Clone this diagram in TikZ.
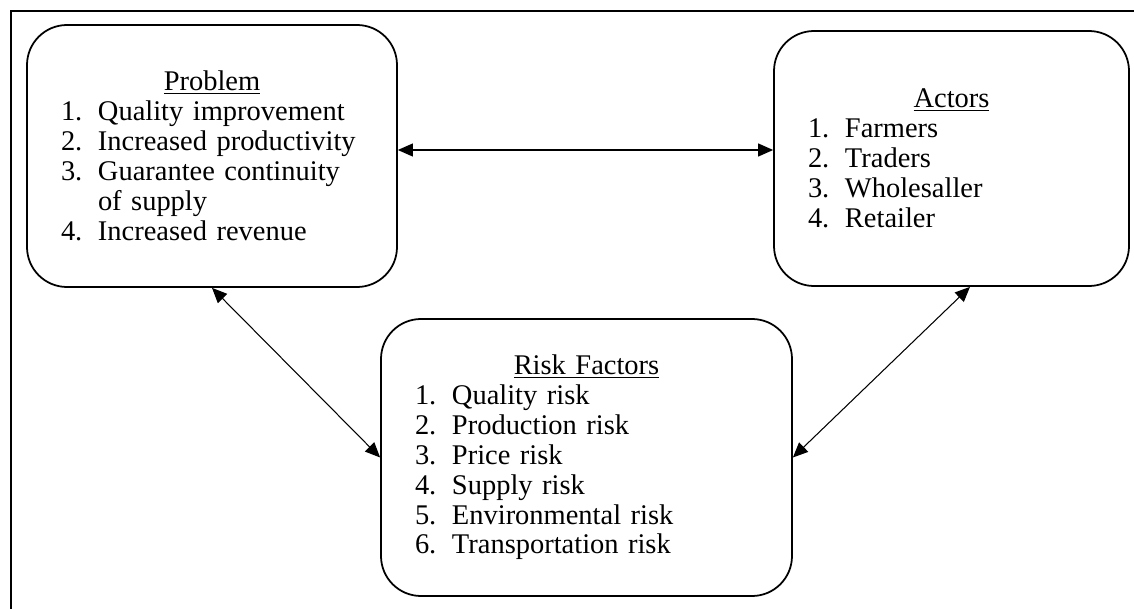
\documentclass[tikz,border=0pt]{standalone}
\usepackage{fontspec}
\setmainfont{Liberation Serif}
\usetikzlibrary{arrows.meta}
\newcommand{\heading}[1]{\makebox[\linewidth]{\underline{#1}}}
\newcommand{\entry}[2]{\makebox[0.74cm][l]{#1}#2}

\begin{document}
\begin{tikzpicture}[
   box/.style={draw, line width=1pt, rounded corners=0.8cm, align=left, inner sep=0pt,
      font=\fontsize{16.2}{17}\selectfont},
   link/.style={arrows={Triangle[length=0.3cm, width=0.26cm]-Triangle[length=0.3cm, width=0.26cm]},
      line width=0.6pt}
]
   \useasboundingbox (0cm, 0cm) rectangle (22.68cm, -12.18cm);

   % frame
   \draw [line width=1pt] (22.68cm, -0.22cm) -- (0.22cm, -0.22cm) -- (0.22cm, -12.18cm);

   % problem
   \node [box, minimum width=7.40cm, minimum height=5.24cm, text width=6.04cm] (problem) at (4.24cm, -3.12cm) {
      \heading{Problem}\\
      \entry{1.}{Quality improvement}\\
      \entry{2.}{Increased productivity}\\
      \entry{3.}{Guarantee continuity}\\
      \entry{}{of supply}\\
      \entry{4.}{Increased revenue}};

   % actors
   \node [box, minimum width=7.10cm, minimum height=5.10cm, text width=5.74cm] (actors) at (19.03cm, -3.17cm) {
      \heading{Actors}\\
      \entry{1.}{Farmers}\\
      \entry{2.}{Traders}\\
      \entry{3.}{Wholesaller}\\
      \entry{4.}{Retailer}};

   % risk factors
   \node [box, minimum width=8.22cm, minimum height=5.54cm, text width=6.86cm] (risk) at (11.73cm, -9.15cm) {
      \heading{Risk Factors}\\
      \entry{1.}{Quality risk}\\
      \entry{2.}{Production risk}\\
      \entry{3.}{Price risk}\\
      \entry{4.}{Supply risk}\\
      \entry{5.}{Environmental risk}\\
      \entry{6.}{Transportation risk}};

   \draw [link] ([yshift=0.12cm]problem.east) -- ([yshift=0.17cm]actors.west);
   \draw [link] (problem.south) -- (risk.west);
   \draw [link] ([xshift=0.37cm]actors.south) -- (risk.east);

\end{tikzpicture}
\end{document}
